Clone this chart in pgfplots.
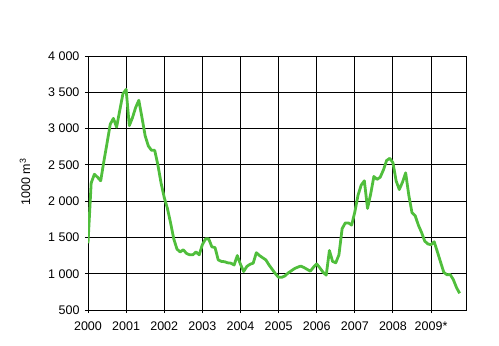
\documentclass[border=0pt]{standalone}
\usepackage{pgfplots}
\pgfplotsset{compat=1.18}
\usepackage{fontspec}
\setmainfont{Liberation Sans}
\definecolor{lgreen}{RGB}{80,190,60}
\begin{document}
\begin{tikzpicture}
\path[use as bounding box] (0pt,0pt) rectangle (499pt,346pt);
\begin{axis}[
  at={(88pt,36pt)}, anchor=south west, scale only axis,
  width=378pt, height=254pt,
  xmin=0, xmax=119, ymin=500, ymax=4000,
  xtick={0,12,24,36,48,60,72,84,96,108},
  xticklabels={2000,2001,2002,2003,2004,2005,2006,2007,2008,2009*},
  ytick={500,1000,1500,2000,2500,3000,3500,4000},
  yticklabels={500,1~000,1~500,2~000,2~500,3~000,3~500,4~000},
  tick align=outside, major tick length=3pt,
  xtick pos=left, ytick pos=left,
  grid=major,
  major grid style={black, line width=0.9pt},
  axis line style={black, line width=0.9pt},
  tick style={black, line width=0.9pt},
  tick label style={font=\fontsize{12.5}{14}\selectfont},
  yticklabel style={xshift=-2pt},
  xticklabel style={yshift=-5pt},
]
\addplot[lgreen, line width=2.8pt, line join=round] table[x=m, y=v] {
m v
0 1420
1 2250
2 2370
3 2330
4 2280
5 2550
6 2800
7 3060
8 3140
9 3020
10 3250
11 3480
12 3540
13 3040
14 3150
15 3290
16 3390
17 3150
18 2900
19 2760
20 2700
21 2700
22 2500
23 2250
24 2050
25 1900
26 1700
27 1480
28 1340
29 1300
30 1330
31 1280
32 1260
33 1260
34 1300
35 1260
36 1400
37 1480
38 1480
39 1370
40 1360
41 1190
42 1170
43 1165
44 1150
45 1145
46 1120
47 1250
48 1130
49 1030
50 1100
51 1130
52 1145
53 1290
54 1250
55 1220
56 1190
57 1120
58 1060
59 1000
60 950
61 950
62 970
63 1010
64 1040
65 1070
66 1090
67 1105
68 1085
69 1060
70 1035
71 1090
72 1135
73 1080
74 1020
75 980
76 1320
77 1170
78 1150
79 1260
80 1620
81 1700
82 1700
83 1670
84 1850
85 2080
86 2220
87 2280
88 1900
89 2100
90 2340
91 2300
92 2330
93 2430
94 2560
95 2590
96 2530
97 2280
98 2160
99 2260
100 2390
101 2080
102 1840
103 1800
104 1670
105 1570
106 1450
107 1410
108 1400
109 1440
110 1300
111 1160
112 1020
113 985
114 990
115 920
116 810
117 730
};
\end{axis}
\node[rotate=90, font=\fontsize{12.5}{14}\selectfont] at (25pt,164pt) {1000 m\textsuperscript{3}};
\end{tikzpicture}
\end{document}
